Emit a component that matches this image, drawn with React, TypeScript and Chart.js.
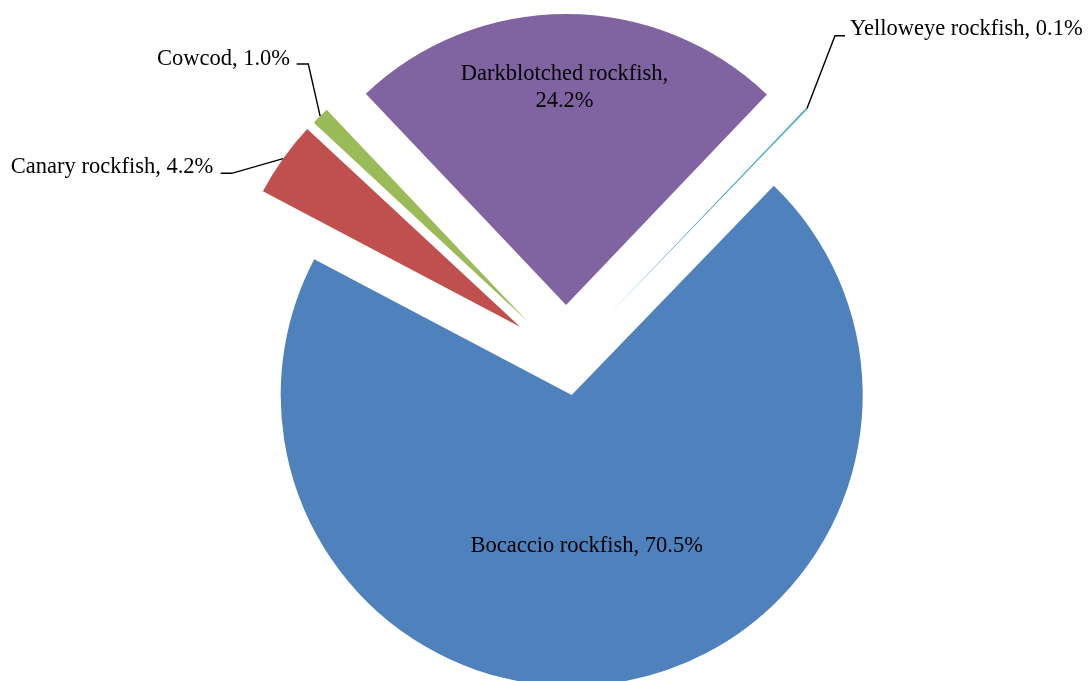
import React, { useEffect, useRef } from "react";
import { Chart, registerables } from "chart.js";

Chart.register(...registerables);

// ---- data ----
const categories = [
  "Bocaccio rockfish",
  "Canary rockfish",
  "Cowcod",
  "Darkblotched rockfish",
  "Yelloweye rockfish",
];
const shares = [70.5, 4.2, 1.0, 24.2, 0.1];
const sliceColors = ["#4F81BD", "#C0504D", "#9BBB59", "#8064A2", "#4BACC6"];
const explodeOffsets = [36, 56, 55, 54.5, 57];

// ---- label layout (text anchor positions, leader elbows) ----
type LabelSpec = {
  lines: string[];
  x: number;
  y: number;
  lineHeight: number;
  align: CanvasTextAlign;
  leader?: { end: [number, number]; elbow: [number, number] };
};
const labelLayout: LabelSpec[] = [
  { lines: [], x: 586.7, y: 552.3, lineHeight: 27, align: "center" },
  {
    lines: [],
    x: 213.3,
    y: 173,
    lineHeight: 27,
    align: "right",
    leader: { end: [220.7, 173.3], elbow: [231.7, 173.3] },
  },
  {
    lines: [],
    x: 290,
    y: 65,
    lineHeight: 27,
    align: "right",
    leader: { end: [296.7, 64], elbow: [308.3, 64] },
  },
  { lines: [], x: 564.5, y: 80, lineHeight: 27, align: "center" },
  {
    lines: [],
    x: 850,
    y: 35,
    lineHeight: 27,
    align: "left",
    leader: { end: [845, 35.7], elbow: [835, 35.7] },
  },
];

const labelLines = (i: number): string[] => {
  const txt = `${categories[i]}, ${shares[i].toFixed(1)}%`;
  if (i === 3) return [`${categories[i]},`, `${shares[i].toFixed(1)}%`];
  return [txt];
};

const RADIUS = 291;

const explodePlugin = {
  id: "explodeSlices",
  afterDatasetsUpdate(chart: any) {
    const meta = chart.getDatasetMeta(0);
    const area = chart.chartArea;
    const cx = (area.left + area.right) / 2;
    const cy = (area.top + area.bottom) / 2;
    meta.data.forEach((arc: any, i: number) => {
      const mid = (arc.startAngle + arc.endAngle) / 2;
      const off = explodeOffsets[i] || 0;
      arc.x = cx + off * Math.cos(mid);
      arc.y = cy + off * Math.sin(mid);
    });
  },
};

const labelPlugin = {
  id: "sliceLabels",
  afterDraw(chart: any) {
    const ctx: CanvasRenderingContext2D = chart.ctx;
    const meta = chart.getDatasetMeta(0);
    ctx.save();
    ctx.font = "22.5px 'Liberation Serif', 'Times New Roman', serif";
    ctx.fillStyle = "#000000";
    ctx.textBaseline = "alphabetic";
    labelLayout.forEach((spec, i) => {
      const arc = meta.data[i];
      if (spec.leader && arc) {
        const mid = (arc.startAngle + arc.endAngle) / 2;
        const ax = arc.x + arc.outerRadius * Math.cos(mid);
        const ay = arc.y + arc.outerRadius * Math.sin(mid);
        ctx.beginPath();
        ctx.strokeStyle = "#000000";
        ctx.lineWidth = 1.4;
        ctx.moveTo(spec.leader.end[0], spec.leader.end[1]);
        ctx.lineTo(spec.leader.elbow[0], spec.leader.elbow[1]);
        ctx.lineTo(ax, ay);
        ctx.stroke();
      }
      ctx.textAlign = spec.align;
      const lines = labelLines(i);
      lines.forEach((line, k) => {
        ctx.fillText(line, spec.x, spec.y + k * spec.lineHeight);
      });
    });
    ctx.restore();
  },
};

export default function App() {
  const canvasRef = useRef<HTMLCanvasElement | null>(null);

  useEffect(() => {
    document.body.style.margin = "0";
    const canvas = canvasRef.current;
    if (!canvas) return;
    const chart = new Chart(canvas, {
      type: "pie",
      data: {
        labels: categories,
        datasets: [
          {
            data: shares,
            backgroundColor: sliceColors,
            borderWidth: 0,
            clip: false as any,
          } as any,
        ],
      },
      options: {
        responsive: false,
        animation: false,
        events: [],
        rotation: 44,
        radius: RADIUS,
        layout: { padding: { left: 43, right: 0, top: 38, bottom: 0 } },
        plugins: {
          legend: { display: false },
          tooltip: { enabled: false },
          title: { display: false },
        },
      } as any,
      plugins: [explodePlugin, labelPlugin],
    });
    return () => chart.destroy();
  }, []);

  return (
    <div
      style={{
        position: "fixed",
        left: 0,
        top: 0,
        width: 1089,
        height: 681,
        background: "#ffffff",
      }}
    >
      <canvas
        ref={canvasRef}
        width={1089}
        height={681}
        style={{ display: "block", width: 1089, height: 681 }}
      />
    </div>
  );
}
